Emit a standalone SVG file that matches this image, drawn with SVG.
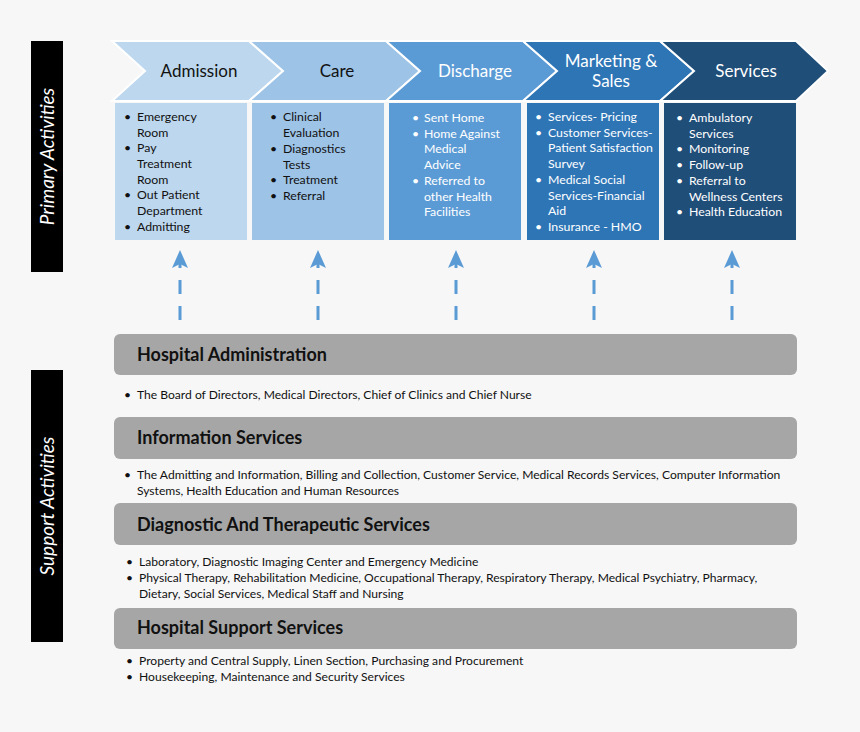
<svg xmlns="http://www.w3.org/2000/svg" width="860" height="732" viewBox="0 0 860 732">
<defs>
<style>
text{font-family:Lato,"Open Sans","Liberation Sans",sans-serif;}
.chev{stroke:#ffffff;stroke-width:2;}
.lbl{font-size:17px;text-anchor:middle;}
.bx{font-size:12.3px;}
.dk{fill:#111111;}
.wt{fill:#ffffff;}
.bar{fill:#a6a6a6;}
.bt{font-size:18px;font-weight:bold;fill:#111111;}
.body{font-size:12.1px;fill:#111111;}
.side{font-size:19px;font-style:italic;fill:#ffffff;text-anchor:middle;}
.arr{stroke:#5b9bd5;stroke-width:3;stroke-dasharray:14 12;fill:none;}
</style>
<marker id="ah" viewBox="0 0 18 16" refX="18" refY="8" markerWidth="18" markerHeight="16" markerUnits="userSpaceOnUse" orient="auto">
<path d="M18,8 L0,0 L4,8 L0,16 Z" fill="#5b9bd5"/>
</marker>
</defs>
<rect width="860" height="732" fill="#f7f7f7"/>

<g id="side-primary">
<rect x="31" y="41" width="32" height="231" fill="#000000"/>
<text class="side" transform="translate(53.5,156.5) rotate(-90)">Primary Activities</text>
</g>
<g id="side-support">
<rect x="31" y="370" width="32" height="272" fill="#000000"/>
<text class="side" transform="translate(53.5,506) rotate(-90)">Support Activities</text>
</g>

<g id="admission">
<polygon class="chev" fill="#bdd7ee" points="112,41 249,41 283,71 249,101 112,101 145,71"/>
<text class="lbl dk" x="199" y="77">Admission</text>
<rect x="115" y="103" width="132" height="137" fill="#bdd7ee"/>
<g class="bx dk">
<text x="124" y="121">•</text><text x="137" y="121">Emergency</text>
<text x="137" y="136.5">Room</text>
<text x="124" y="152">•</text><text x="137" y="152">Pay</text>
<text x="137" y="168">Treatment</text>
<text x="137" y="183.5">Room</text>
<text x="124" y="199">•</text><text x="137" y="199">Out Patient</text>
<text x="137" y="215">Department</text>
<text x="124" y="230.5">•</text><text x="137" y="230.5">Admitting</text>
</g>
</g>

<g id="care">
<polygon class="chev" fill="#9dc3e6" points="249,41 386,41 420,71 386,101 249,101 283,71"/>
<text class="lbl dk" x="337" y="77">Care</text>
<rect x="252" y="103" width="132" height="137" fill="#9dc3e6"/>
<g class="bx dk">
<text x="270" y="121">•</text><text x="283" y="121">Clinical</text>
<text x="283" y="137">Evaluation</text>
<text x="270" y="153">•</text><text x="283" y="153">Diagnostics</text>
<text x="283" y="168.5">Tests</text>
<text x="270" y="184">•</text><text x="283" y="184">Treatment</text>
<text x="270" y="200">•</text><text x="283" y="200">Referral</text>
</g>
</g>

<g id="discharge">
<polygon class="chev" fill="#5b9bd5" points="386,41 523,41 557,71 523,101 386,101 420,71"/>
<text class="lbl wt" x="475" y="77">Discharge</text>
<rect x="389" y="103" width="132" height="137" fill="#5b9bd5"/>
<g class="bx wt">
<text x="412" y="122">•</text><text x="424" y="122">Sent Home</text>
<text x="412" y="137.5">•</text><text x="424" y="137.5">Home Against</text>
<text x="424" y="153">Medical</text>
<text x="424" y="169">Advice</text>
<text x="412" y="185">•</text><text x="424" y="185">Referred to</text>
<text x="424" y="200.5">other Health</text>
<text x="424" y="216">Facilities</text>
</g>
</g>

<g id="marketing">
<polygon class="chev" fill="#2e75b6" points="523,41 660,41 694,71 660,101 523,101 557,71"/>
<text class="lbl wt" x="611" y="66.5">Marketing &amp;</text>
<text class="lbl wt" x="611" y="86.5">Sales</text>
<rect x="527" y="103" width="132" height="137" fill="#2e75b6"/>
<g class="bx wt">
<text x="535" y="121">•</text><text x="548" y="121">Services- Pricing</text>
<text x="535" y="136.5">•</text><text x="548" y="136.5">Customer Services-</text>
<text x="548" y="152">Patient Satisfaction</text>
<text x="548" y="168">Survey</text>
<text x="535" y="184">•</text><text x="548" y="184">Medical Social</text>
<text x="548" y="199.5">Services-Financial</text>
<text x="548" y="215">Aid</text>
<text x="535" y="231">•</text><text x="548" y="231">Insurance - HMO</text>
</g>
</g>

<g id="services">
<polygon class="chev" fill="#1f4e79" points="660,41 796,41 828,71 796,101 660,101 694,71"/>
<text class="lbl wt" x="746" y="77">Services</text>
<rect x="664" y="103" width="132" height="137" fill="#1f4e79"/>
<g class="bx wt">
<text x="676" y="122">•</text><text x="689" y="122">Ambulatory</text>
<text x="689" y="137.5">Services</text>
<text x="676" y="153">•</text><text x="689" y="153">Monitoring</text>
<text x="676" y="169">•</text><text x="689" y="169">Follow-up</text>
<text x="676" y="185">•</text><text x="689" y="185">Referral to</text>
<text x="689" y="200.5">Wellness Centers</text>
<text x="676" y="216">•</text><text x="689" y="216">Health Education</text>
</g>
</g>

<g id="connectors">
<line class="arr" x1="180" y1="320" x2="180" y2="250" marker-end="url(#ah)"/>
<line class="arr" x1="318" y1="320" x2="318" y2="250" marker-end="url(#ah)"/>
<line class="arr" x1="456" y1="320" x2="456" y2="250" marker-end="url(#ah)"/>
<line class="arr" x1="594" y1="320" x2="594" y2="250" marker-end="url(#ah)"/>
<line class="arr" x1="732" y1="320" x2="732" y2="250" marker-end="url(#ah)"/>
</g>

<g id="hospital-administration">
<rect class="bar" x="114" y="334" width="683" height="41" rx="6"/>
<text class="bt" x="137" y="361">Hospital Administration</text>
<text class="body" x="124" y="399">•</text>
<text class="body" x="137" y="399">The Board of Directors, Medical Directors, Chief of Clinics and Chief Nurse</text>
</g>

<g id="information-services">
<rect class="bar" x="114" y="417" width="683" height="42" rx="6"/>
<text class="bt" x="137" y="444">Information Services</text>
<text class="body" x="124" y="479">•</text>
<text class="body" x="137" y="479">The Admitting and Information, Billing and Collection, Customer Service, Medical Records Services, Computer Information</text>
<text class="body" x="137" y="495">Systems, Health Education and Human Resources</text>
</g>

<g id="diagnostic-therapeutic">
<rect class="bar" x="114" y="503" width="683" height="42" rx="6"/>
<text class="bt" x="137" y="530.5">Diagnostic And Therapeutic Services</text>
<text class="body" x="126" y="566">•</text>
<text class="body" x="139" y="566">Laboratory, Diagnostic Imaging Center and Emergency Medicine</text>
<text class="body" x="126" y="582">•</text>
<text class="body" x="139" y="582">Physical Therapy, Rehabilitation Medicine, Occupational Therapy, Respiratory Therapy, Medical Psychiatry, Pharmacy,</text>
<text class="body" x="139" y="598">Dietary, Social Services, Medical Staff and Nursing</text>
</g>

<g id="hospital-support">
<rect class="bar" x="114" y="608" width="683" height="41" rx="6"/>
<text class="bt" x="137" y="634">Hospital Support Services</text>
<text class="body" x="126" y="665">•</text>
<text class="body" x="139" y="665">Property and Central Supply, Linen Section, Purchasing and Procurement</text>
<text class="body" x="126" y="681">•</text>
<text class="body" x="139" y="681">Housekeeping, Maintenance and Security Services</text>
</g>
</svg>
